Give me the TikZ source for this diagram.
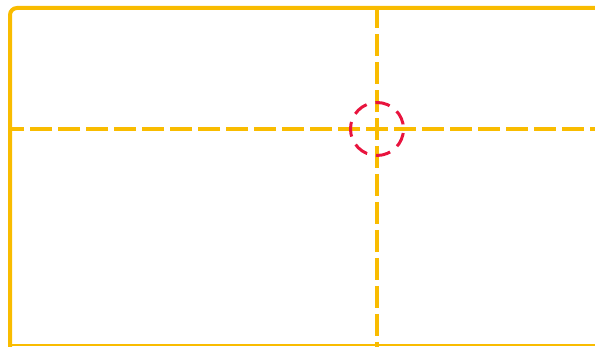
\documentclass[tikz,border=0pt]{standalone}
\usepackage{tikz}
\usetikzlibrary{positioning}
\definecolor{FrameGold}{RGB}{249, 188, 0}
\definecolor{TargetRed}{RGB}{232, 20, 62}

\begin{document}
\begin{tikzpicture}[
    x=1pt, y=1pt,
    frame/.style={draw=FrameGold, line width=4pt, rounded corners=7pt},
    edge/.style={draw=FrameGold, line width=2pt},
    guide/.style={draw=FrameGold, line width=4pt, dash pattern=on 22pt off 6pt, dash phase=11pt},
    target/.style={circle, draw=TargetRed, line width=3pt, dash pattern=on 14.8pt off 9pt, dash phase=19.2pt, minimum size=53pt, inner sep=0pt}
]
\useasboundingbox (0,0) rectangle (595,347);

% Frame edges
\coordinate (left) at (10,218);
\coordinate (right) at (600,218);
\coordinate (top) at (377,339);
\coordinate (bottom) at (377,0);

% Frame
\draw[frame] (605,339) -- (10,339) -- (10,-6);
\draw[edge] (10,2) -- (600,2);

% Cross point
\coordinate (cross) at (377,218);

% Guides
\draw[guide] (cross) -- (left);
\draw[guide] (cross) -- (right);
\draw[guide] (cross) -- (top);
\draw[guide] (cross) -- (bottom);

% Target
\node[target] (mark) at (cross) {};

\end{tikzpicture}
\end{document}
